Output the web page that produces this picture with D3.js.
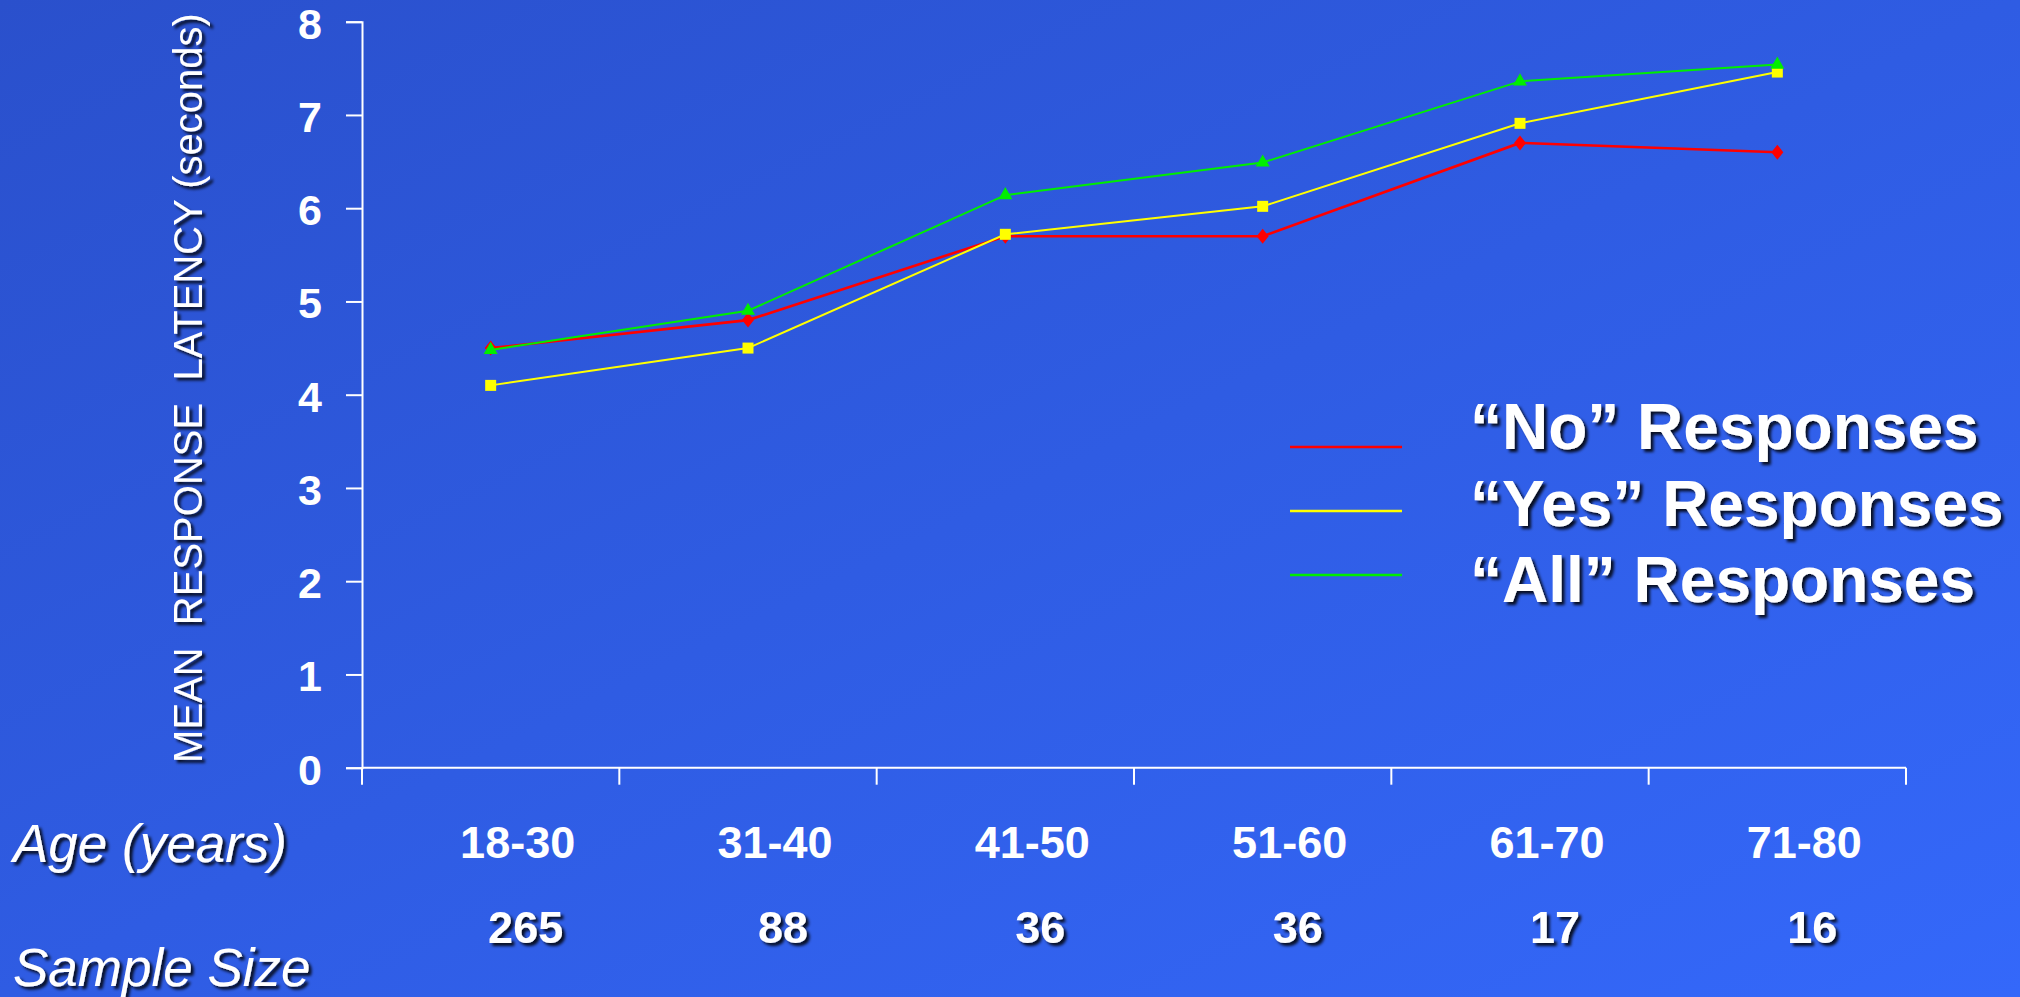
<!DOCTYPE html>
<html>
<head>
<meta charset="utf-8">
<script src="https://cdn.jsdelivr.net/npm/d3@7"></script>
<style>
  html, body { margin: 0; padding: 0; overflow: hidden; }
  body { width: 2020px; height: 997px; }
  text { font-family: "Liberation Sans", Arial, sans-serif; fill: #ffffff; }
</style>
</head>
<body>
<div id="chart"></div>
<script>
// data
const ageGroups = ["18-30", "31-40", "41-50", "51-60", "61-70", "71-80"];
const sampleSizes = [265, 88, 36, 36, 17, 16];
const noResponses = [4.5, 4.8, 5.7, 5.7, 6.7, 6.6];
const yesResponses = [4.1, 4.5, 5.72, 6.02, 6.91, 7.46];
const allResponses = [4.48, 4.9, 6.14, 6.49, 7.36, 7.54];
const yTicks = [0, 1, 2, 3, 4, 5, 6, 7, 8];
const seriesNames = ["\u201cNo\u201d Responses", "\u201cYes\u201d Responses", "\u201cAll\u201d Responses"];

const width = 2020, height = 997;

const svg = d3.select("#chart").append("svg")
    .attr("width", width)
    .attr("height", height);

// background gradient, darker top-left to brighter bottom-right
const defs = svg.append("defs");
const grad = defs.append("linearGradient")
    .attr("id", "bg")
    .attr("x1", "0%").attr("y1", "0%")
    .attr("x2", "100%").attr("y2", "100%");
grad.append("stop").attr("offset", "0%").attr("stop-color", "#2a50cc");
grad.append("stop").attr("offset", "100%").attr("stop-color", "#3468fa");

const shadow = defs.append("filter")
    .attr("id", "shadow")
    .attr("x", "-10%").attr("y", "-10%")
    .attr("width", "130%").attr("height", "130%");
shadow.append("feDropShadow")
    .attr("dx", 3).attr("dy", 3)
    .attr("stdDeviation", 1.6)
    .attr("flood-color", "#000")
    .attr("flood-opacity", 0.85);

svg.append("rect")
    .attr("width", width)
    .attr("height", height)
    .attr("fill", "url(#bg)");

// scales
const x = d3.scaleBand()
    .domain(ageGroups)
    .range([362, 1906])
    .padding(0);

const y = d3.scaleLinear()
    .domain([0, 8])
    .range([767.7, 21.7]);

const cx = d => x(d) + x.bandwidth() / 2;

// y axis
const yAxis = svg.append("g")
    .attr("transform", "translate(362,0)")
    .call(d3.axisLeft(y).tickValues(yTicks).tickSize(16).tickPadding(24).tickFormat(d3.format("d")));
yAxis.select(".domain").attr("stroke", "#fff").attr("stroke-width", 2);
yAxis.selectAll(".tick line").attr("stroke", "#fff").attr("stroke-width", 2);
yAxis.selectAll(".tick text")
    .attr("fill", "#fff")
    .style("font-family", "'Liberation Sans', Arial, sans-serif")
    .style("font-size", "43px")
    .style("font-weight", "bold")
    .attr("dy", "0.38em");

// x axis line with ticks at category boundaries
const xAxis = svg.append("g");
xAxis.append("line")
    .attr("x1", x.range()[0]).attr("x2", x.range()[1])
    .attr("y1", y(0)).attr("y2", y(0))
    .attr("stroke", "#fff").attr("stroke-width", 2);
const boundaries = ageGroups.map(d => x(d)).concat([x.range()[1]]);
xAxis.selectAll("line.tick")
    .data(boundaries)
    .enter()
    .append("line")
    .attr("class", "tick")
    .attr("x1", d => d).attr("x2", d => d)
    .attr("y1", y(0)).attr("y2", y(0) + 17)
    .attr("stroke", "#fff").attr("stroke-width", 2);

// category labels (the slide has them shifted a bit right of the band centre)
svg.append("g").selectAll("text")
    .data(ageGroups)
    .enter()
    .append("text")
    .attr("x", d => cx(d) + 27)
    .attr("y", 858)
    .attr("text-anchor", "middle")
    .style("font-size", "45px")
    .style("font-weight", "bold")
    .text(d => d);

// sample sizes
svg.append("g")
    .attr("filter", "url(#shadow)")
    .selectAll("text")
    .data(sampleSizes)
    .enter()
    .append("text")
    .attr("x", (d, i) => cx(ageGroups[i]) + 35)
    .attr("y", 943)
    .attr("text-anchor", "middle")
    .style("font-size", "45px")
    .style("font-weight", "bold")
    .text(d => d);

// left side labels
const leftLabels = svg.append("g").attr("filter", "url(#shadow)");
leftLabels.append("text")
    .attr("x", 13)
    .attr("y", 862)
    .style("font-size", "53px")
    .style("font-style", "italic")
    .text("Age (years)");
leftLabels.append("text")
    .attr("x", 13)
    .attr("y", 986)
    .style("font-size", "53px")
    .style("font-style", "italic")
    .text("Sample Size");

// y axis title
svg.append("g")
    .attr("filter", "url(#shadow)")
    .append("text")
    .attr("transform", "translate(202,388) rotate(-90)")
    .attr("text-anchor", "middle")
    .style("font-size", "40px")
    .style("white-space", "pre")
    .attr("xml:space", "preserve")
    .text("MEAN  RESPONSE  LATENCY (seconds)");

// markers
const diamond = {
    draw(ctx, size) {
        const h = Math.sqrt(size) * 0.75, w = Math.sqrt(size) * 0.6;
        ctx.moveTo(0, -h); ctx.lineTo(w, 0); ctx.lineTo(0, h); ctx.lineTo(-w, 0); ctx.closePath();
    }
};

const series = [
    { name: seriesNames[0], values: noResponses, color: "#ff0000", width: 2.6, symbol: diamond, size: 100 },
    { name: seriesNames[1], values: yesResponses, color: "#ffff00", width: 2, symbol: d3.symbolSquare, size: 121 },
    { name: seriesNames[2], values: allResponses, color: "#00ee00", width: 2, symbol: d3.symbolTriangle, size: 85 }
];

const line = d3.line()
    .x((d, i) => cx(ageGroups[i]))
    .y(d => y(d));

series.forEach(s => {
    const g = svg.append("g");
    g.append("path")
        .datum(s.values)
        .attr("d", line)
        .attr("fill", "none")
        .attr("stroke", s.color)
        .attr("stroke-width", s.width);
    g.selectAll("path.mark")
        .data(s.values)
        .enter()
        .append("path")
        .attr("class", "mark")
        .attr("d", d3.symbol().type(s.symbol).size(s.size))
        .attr("transform", (d, i) => `translate(${cx(ageGroups[i])},${y(d)})`)
        .attr("fill", s.color);
});

// legend
const legend = svg.append("g");
const lineYs = [447, 511, 575];
const textYs = [449, 526, 602];
legend.selectAll("line")
    .data(series)
    .enter()
    .append("line")
    .attr("x1", 1290).attr("x2", 1402)
    .attr("y1", (d, i) => lineYs[i]).attr("y2", (d, i) => lineYs[i])
    .attr("stroke", d => d.color)
    .attr("stroke-width", 2.5);
legend.append("g")
    .attr("filter", "url(#shadow)")
    .selectAll("text")
    .data(series)
    .enter()
    .append("text")
    .attr("x", 1470)
    .attr("y", (d, i) => textYs[i])
    .style("font-size", "64px")
    .style("font-weight", "bold")
    .text(d => d.name);
</script>
</body>
</html>
